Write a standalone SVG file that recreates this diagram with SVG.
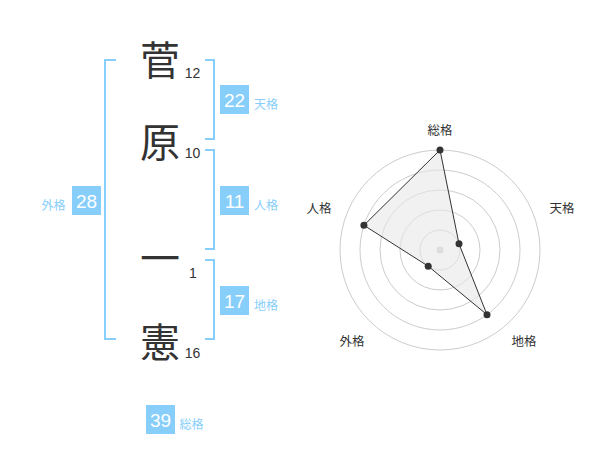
<svg xmlns="http://www.w3.org/2000/svg" width="600" height="470" viewBox="0 0 600 470">
<style>
.k{font-family:"Noto Sans CJK JP","Noto Sans CJK SC",sans-serif;font-size:40px;fill:#333;text-anchor:middle}
.n{font-family:"Liberation Sans",Arial,sans-serif;font-size:14px;fill:#333;text-anchor:middle}
.br{fill:none;stroke:#87CEFA;stroke-width:2}
.box{fill:#87CEFA}
.bn{font-family:"Liberation Sans",Arial,sans-serif;font-size:19px;fill:#fff;text-anchor:middle}
.bl{font-family:"Noto Sans CJK JP","Noto Sans CJK SC",sans-serif;font-size:12px;fill:#87CEFA}
.ring{fill:none;stroke:#ccc;stroke-width:1}
.rl{font-family:"Noto Sans CJK JP","Noto Sans CJK SC",sans-serif;font-size:12.5px;fill:#333;text-anchor:middle}
.dot{fill:#333}
</style>
<rect width="600" height="470" fill="#fff"/>
<g id="chars">
<text class="k" x="160" y="74.5">菅</text>
<text class="n" x="192.5" y="78">12</text>
<text class="k" x="160" y="156.5">原</text>
<text class="n" x="192.5" y="158">10</text>
<text class="k" x="160" y="273">一</text>
<text class="n" x="193" y="278">1</text>
<text class="k" x="160" y="356.5">憲</text>
<text class="n" x="192.5" y="358">16</text>
</g>
<g id="connectors">
<path class="br" d="M116,60 H105 V339 H116"/>
<path class="br" d="M205,60 H214 V139 H205"/>
<path class="br" d="M205,150 H214 V249 H205"/>
<path class="br" d="M205,260 H214 V339 H205"/>
</g>
<g id="tenkaku">
<rect class="box" x="220" y="85" width="29" height="29"/>
<text class="bn" x="234.5" y="106.5">22</text>
<text class="bl" x="254" y="108.5">天格</text>
</g>
<g id="jinkaku">
<rect class="box" x="220" y="186" width="29" height="29"/>
<text class="bn" x="234.5" y="207.5">11</text>
<text class="bl" x="254" y="209.5">人格</text>
</g>
<g id="chikaku">
<rect class="box" x="220" y="286" width="29" height="29"/>
<text class="bn" x="234.5" y="307.5">17</text>
<text class="bl" x="254" y="309.5">地格</text>
</g>
<g id="gaikaku">
<rect class="box" x="72" y="186" width="29" height="29"/>
<text class="bn" x="86.5" y="207.5">28</text>
<text class="bl" x="41.5" y="209.5">外格</text>
</g>
<g id="soukaku">
<rect class="box" x="146" y="405" width="29" height="29"/>
<text class="bn" x="160.5" y="426.5">39</text>
<text class="bl" x="179.5" y="428.5">総格</text>
</g>
<g id="radar">
<circle class="ring" cx="440" cy="250" r="20"/>
<circle class="ring" cx="440" cy="250" r="40"/>
<circle class="ring" cx="440" cy="250" r="60"/>
<circle class="ring" cx="440" cy="250" r="80"/>
<circle class="ring" cx="440" cy="250" r="100"/>
<circle cx="440" cy="250" r="3.5" fill="#ccc"/>
<polygon points="440,150 459.0,243.8 487.0,314.7 428.2,266.2 363.9,225.3" fill="#e8e8e8" fill-opacity="0.6" stroke="#333" stroke-width="1"/>
<circle class="dot" cx="440" cy="150" r="3.5"/>
<circle class="dot" cx="459.0" cy="243.8" r="3.5"/>
<circle class="dot" cx="487.0" cy="314.7" r="3.5"/>
<circle class="dot" cx="428.2" cy="266.2" r="3.5"/>
<circle class="dot" cx="363.9" cy="225.3" r="3.5"/>
<text class="rl" x="440" y="134.5">総格</text>
<text class="rl" x="562" y="212.5">天格</text>
<text class="rl" x="524" y="346">地格</text>
<text class="rl" x="352" y="346">外格</text>
<text class="rl" x="319" y="212.5">人格</text>
</g>
</svg>
